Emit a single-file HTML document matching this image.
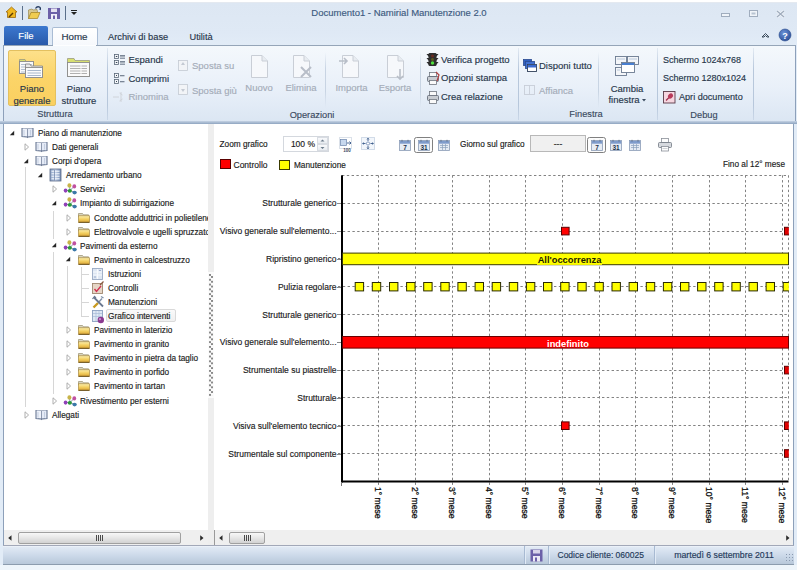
<!DOCTYPE html><html><head><meta charset="utf-8"><style>
html,body{margin:0;padding:0;}
body{width:800px;height:570px;overflow:hidden;position:relative;background:#ffffff;font-family:"Liberation Sans",sans-serif;}
.a{position:absolute;}
.t{position:absolute;white-space:nowrap;line-height:14px;-webkit-text-stroke:0.15px currentColor;}
svg{position:absolute;overflow:visible;}
</style></head><body>

<div class="a" style="left:0;top:2px;width:797px;height:564px;background:linear-gradient(#dde7f3,#dfe9f5 30px,#e2ecf7 44px);border-top:1px solid #e4e9f0;box-sizing:border-box;"></div>
<svg style="left:0;top:0" width="90" height="25">
 <path d="M6 12 L11.5 7 L17 12 L15.5 12 L15.5 17.5 L7.5 17.5 L7.5 12 Z" fill="#f0b820" stroke="#9a6a10" stroke-width="0.8"/>
 <path d="M9 17 L13 13" stroke="#5a3a00" stroke-width="1.5"/>
 <rect x="22" y="6" width="1" height="14" fill="#5a6f8a"/>
 <path d="M28.5 10 L32 9 L33 10 L37 9.5 L37.5 12 L28.5 18.5 Z" fill="#d8c890" stroke="#9a8a50" stroke-width="0.7"/>
 <path d="M28.5 18.5 L31 12.5 L40 12.5 L37.5 18.5 Z" fill="#f0cc50" stroke="#a08020" stroke-width="0.7"/>
 <path d="M35.5 8.5 Q37 6 39.5 7 Q41 8 40 10" stroke="#243a60" stroke-width="1.3" fill="none"/>
 <rect x="48" y="8" width="12" height="11" fill="#6c60a8"/>
 <rect x="51" y="8.5" width="6" height="3.5" fill="#e4e0f0"/>
 <rect x="51" y="14" width="6" height="5" fill="#f0eef8"/>
 <rect x="53" y="15.5" width="2" height="3.5" fill="#6c60a8"/>
 <rect x="65" y="6" width="1" height="14" fill="#5a6f8a"/>
 <rect x="71" y="10" width="6" height="1" fill="#222"/>
 <path d="M71 12 L77 12 L74 15 Z" fill="#222"/>
</svg>
<div class="t" style="left:249px;width:300px;text-align:center;top:5.5px;font-size:9.5px;color:#3d5a80;font-weight:normal;">Documento1 - Namirial Manutenzione 2.0</div>
<svg style="left:700px;top:0" width="100" height="45">
 <rect x="21.5" y="13.5" width="8" height="3" fill="#f0f4f9" stroke="#a0adbe" stroke-width="1"/>
 <rect x="49.5" y="10.5" width="8" height="6" fill="#f0f4f9" stroke="#a0adbe" stroke-width="1"/>
 <rect x="51.5" y="12.5" width="4" height="2" fill="#b8c4d2"/>
 <path d="M77 11 L84 17 M84 11 L77 17" stroke="#f4f7fb" stroke-width="2.6"/><path d="M77 11 L84 17 M84 11 L77 17" stroke="#a0adbe" stroke-width="1.4"/>
 <path d="M62 37 L65.5 33.5 L69 37 L67 37 L65.5 35.5 L64 37 Z" fill="none" stroke="#3a4a5a" stroke-width="1"/>
 <defs><radialGradient id="hg" cx="0.4" cy="0.35" r="0.7"><stop offset="0" stop-color="#6a92d8"/><stop offset="1" stop-color="#2d4f98"/></radialGradient></defs><circle cx="85" cy="35" r="6" fill="url(#hg)" stroke="#284a8a" stroke-width="0.6"/>
 <text x="85" y="38.5" font-size="9" font-weight="bold" fill="#fff" text-anchor="middle" font-family="Liberation Sans">?</text>
</svg>
<div class="a" style="left:4px;top:26px;width:44px;height:20px;background:linear-gradient(#3c78cf,#2858a8);border-radius:2px 2px 0 0;"></div>
<div class="t" style="left:-124px;width:300px;text-align:center;top:29.0px;font-size:9.5px;color:#ffffff;font-weight:normal;">File</div>
<div class="a" style="left:52px;top:27px;width:44px;height:19px;background:linear-gradient(#ffffff,#f5f8fc);border:1px solid #a9bcd4;border-bottom:none;border-radius:2px 2px 0 0;"></div>
<div class="t" style="left:-75.5px;width:300px;text-align:center;top:30.0px;font-size:9.8px;color:#27364a;font-weight:normal;">Home</div>
<div class="t" style="left:108px;top:30.0px;font-size:9.25px;color:#27364a;font-weight:normal;">Archivi di base</div>
<div class="t" style="left:189.5px;top:30.0px;font-size:9.25px;color:#27364a;font-weight:normal;">Utilità</div>
<div class="a" style="left:3px;top:45px;width:791px;height:76px;background:linear-gradient(#f4f8fc 0%,#e9f0f9 55%,#dbe6f3 100%);border-top:1px solid #95a5b8;border-left:1px solid #8da0ba;border-right:1px solid #8da0ba;"></div>
<div class="a" style="left:53px;top:45px;width:43px;height:1px;background:#fdfeff;"></div>
<div class="a" style="left:0px;top:121px;width:797px;height:3px;background:linear-gradient(#c5d3e4,#8ea4c0);"></div>
<div class="a" style="left:107px;top:48px;width:1px;height:72px;background:linear-gradient(rgba(160,180,205,0.2),#b7c7db 30%,#b7c7db 80%,rgba(160,180,205,0.3));"></div>
<div class="a" style="left:518px;top:48px;width:1px;height:72px;background:linear-gradient(rgba(160,180,205,0.2),#b7c7db 30%,#b7c7db 80%,rgba(160,180,205,0.3));"></div>
<div class="a" style="left:657px;top:48px;width:1px;height:72px;background:linear-gradient(rgba(160,180,205,0.2),#b7c7db 30%,#b7c7db 80%,rgba(160,180,205,0.3));"></div>
<div class="a" style="left:753px;top:48px;width:1px;height:72px;background:linear-gradient(rgba(160,180,205,0.2),#b7c7db 30%,#b7c7db 80%,rgba(160,180,205,0.3));"></div>
<div class="a" style="left:325px;top:52px;width:1px;height:56px;background:linear-gradient(rgba(180,195,215,0),#c8d4e3 30%,#c8d4e3 70%,rgba(180,195,215,0));"></div>
<div class="a" style="left:420px;top:52px;width:1px;height:56px;background:linear-gradient(rgba(180,195,215,0),#c8d4e3 30%,#c8d4e3 70%,rgba(180,195,215,0));"></div>
<div class="a" style="left:598px;top:52px;width:1px;height:56px;background:linear-gradient(rgba(180,195,215,0),#c8d4e3 30%,#c8d4e3 70%,rgba(180,195,215,0));"></div>
<div class="a" style="left:8px;top:50px;width:48px;height:56px;background:linear-gradient(#fde08a,#fbd468 50%,#fad060);border:1px solid #e3c060;border-radius:2px;box-sizing:border-box;"></div>
<svg style="left:0;top:45px" width="110" height="40">
 <g transform="translate(19,13)">
  <path d="M0.5 1.5 L6 1.5 L7 3.5 L14.5 3.5 L14.5 15.5 L0.5 15.5 Z" fill="#d8e070" stroke="#9a9a80" stroke-width="0.8"/>
  <rect x="0.5" y="3.5" width="14" height="12" fill="#fafafa" stroke="#8a8a8a" stroke-width="0.9"/>
  <path d="M2 6.5 H13 M2 9 H13 M2 11.5 H13 M2 14 H13" stroke="#a8b8cc" stroke-width="0.9"/>
  <path d="M6.5 6 L11 6 L12 8 L23.5 8 L23.5 19.5 L6.5 19.5 Z" fill="#e8e8e8" stroke="#8a8a8a" stroke-width="0.9"/>
  <rect x="6.5" y="9.5" width="17" height="10" fill="#fbfbfb" stroke="#8a8a8a" stroke-width="0.9"/>
  <path d="M8.5 12.5 H22 M8.5 15 H22 M8.5 17.5 H22" stroke="#a8b8cc" stroke-width="1"/>
 </g>
 <g transform="translate(67,13)">
  <path d="M0.5 0.5 L7 0.5 L8 2.5 L22.5 2.5 L22.5 18.5 L0.5 18.5 Z" fill="#d8e070" stroke="#9a9a80" stroke-width="0.8"/>
  <rect x="0.5" y="4.5" width="22" height="14" fill="#fafafa" stroke="#8a8a8a" stroke-width="0.9"/>
  <path d="M3 8 H20 M3 10.5 H20 M3 13 H20 M3 15.5 H20" stroke="#b0b0b0" stroke-width="1.2"/>
  <path d="M14 5 V18" stroke="#fafafa" stroke-width="1"/>
 </g>
</svg>
<div class="t" style="left:-118px;width:300px;text-align:center;top:82.0px;font-size:9.5px;color:#27364a;font-weight:normal;">Piano</div>
<div class="t" style="left:-118px;width:300px;text-align:center;top:93.5px;font-size:9.5px;color:#27364a;font-weight:normal;">generale</div>
<div class="t" style="left:-71px;width:300px;text-align:center;top:82.0px;font-size:9.5px;color:#27364a;font-weight:normal;">Piano</div>
<div class="t" style="left:-71px;width:300px;text-align:center;top:93.5px;font-size:9.5px;color:#27364a;font-weight:normal;">strutture</div>
<div class="t" style="left:-95px;width:300px;text-align:center;top:107.0px;font-size:9.25px;color:#3a4a60;font-weight:normal;">Struttura</div>
<svg style="left:110px;top:50px" width="90" height="60">
 <g stroke="#5a6878" stroke-width="0.8" fill="#f4f6f9">
  <rect x="4.5" y="4.5" width="4" height="4"/><rect x="4.5" y="10.5" width="4" height="4"/>
  <rect x="4.5" y="23.5" width="4" height="4"/><rect x="4.5" y="29.5" width="4" height="4"/>
 </g>
 <g fill="#3a4858">
  <rect x="5.8" y="6" width="1.5" height="1"/><rect x="5.8" y="12" width="1.5" height="1"/>
  <rect x="6" y="25" width="1" height="1"/><rect x="6" y="31" width="1" height="1"/>
 </g>
 <g fill="#7a8696">
  <rect x="10" y="5" width="5" height="1.6"/><rect x="10" y="7.6" width="5" height="1.2"/>
  <rect x="10" y="11" width="5" height="1.6"/><rect x="10" y="13.6" width="5" height="1.2"/>
  <rect x="10" y="25" width="4.5" height="1.3"/><rect x="10" y="31" width="4.5" height="1.3"/>
 </g>
 <g stroke="#d0d4da" stroke-width="1" fill="none"><path d="M3 47 H9 M11 42 V52 M9.5 43 L12.5 45 M9.5 51 L12.5 49"/></g>
</svg>
<div class="t" style="left:128.5px;top:52.5px;font-size:9.5px;color:#27364a;font-weight:normal;">Espandi</div>
<div class="t" style="left:128.5px;top:71.5px;font-size:9.5px;color:#27364a;font-weight:normal;">Comprimi</div>
<div class="t" style="left:128.5px;top:90.0px;font-size:9.5px;color:#a4acb8;font-weight:normal;">Rinomina</div>
<svg style="left:176px;top:55px" width="20" height="45">
 <g fill="#f2f4f7" stroke="#c4cad3" stroke-width="0.8">
  <rect x="2.5" y="5.5" width="9" height="10"/><rect x="2.5" y="29.5" width="9" height="10"/>
 </g>
 <g fill="#c4cad3"><path d="M5 10 L9 10 L7 7 Z"/><path d="M5 34 L9 34 L7 37 Z"/></g>
</svg>
<div class="t" style="left:192px;top:58.5px;font-size:9.5px;color:#a4acb8;font-weight:normal;">Sposta su</div>
<div class="t" style="left:192px;top:83.5px;font-size:9.5px;color:#a4acb8;font-weight:normal;">Sposta giù</div>
<svg style="left:250px;top:55px" width="24" height="26">
 <path d="M1.5 0.5 L12 0.5 L17.5 6 L17.5 22.5 L1.5 22.5 Z" fill="#f6f8fb" stroke="#c9ced6" stroke-width="1"/>
 <path d="M12 0.5 L12 6 L17.5 6" fill="#e8ecf1" stroke="#c9ced6" stroke-width="1"/>
</svg>
<svg style="left:292px;top:55px" width="24" height="26">
 <path d="M1.5 0.5 L12 0.5 L17.5 6 L17.5 22.5 L1.5 22.5 Z" fill="#f6f8fb" stroke="#c9ced6" stroke-width="1"/>
 <path d="M12 0.5 L12 6 L17.5 6" fill="#e8ecf1" stroke="#c9ced6" stroke-width="1"/><path d="M9 12 L19 22 M19 12 L9 22" stroke="#b8bec8" stroke-width="2"/>
</svg>
<svg style="left:341px;top:55px" width="24" height="26">
 <path d="M1.5 0.5 L12 0.5 L17.5 6 L17.5 22.5 L1.5 22.5 Z" fill="#f6f8fb" stroke="#c9ced6" stroke-width="1"/>
 <path d="M12 0.5 L12 6 L17.5 6" fill="#e8ecf1" stroke="#c9ced6" stroke-width="1"/><path d="M-2 6 L6 6 M3 3 L6 6 L3 9" stroke="#b8bec8" stroke-width="1.6" fill="none"/>
</svg>
<svg style="left:386px;top:55px" width="24" height="26">
 <path d="M1.5 0.5 L12 0.5 L17.5 6 L17.5 22.5 L1.5 22.5 Z" fill="#f6f8fb" stroke="#c9ced6" stroke-width="1"/>
 <path d="M12 0.5 L12 6 L17.5 6" fill="#e8ecf1" stroke="#c9ced6" stroke-width="1"/><path d="M14 14 L14 24 M11 21 L14 24 L17 21" stroke="#b8bec8" stroke-width="1.6" fill="none"/>
</svg>
<div class="t" style="left:109px;width:300px;text-align:center;top:81.0px;font-size:9.5px;color:#a4acb8;font-weight:normal;">Nuovo</div>
<div class="t" style="left:151px;width:300px;text-align:center;top:81.0px;font-size:9.5px;color:#a4acb8;font-weight:normal;">Elimina</div>
<div class="t" style="left:201.5px;width:300px;text-align:center;top:81.0px;font-size:9.5px;color:#a4acb8;font-weight:normal;">Importa</div>
<div class="t" style="left:245px;width:300px;text-align:center;top:81.0px;font-size:9.5px;color:#a4acb8;font-weight:normal;">Esporta</div>
<div class="t" style="left:162px;width:300px;text-align:center;top:107.5px;font-size:9.25px;color:#3a4a60;font-weight:normal;">Operazioni</div>
<svg style="left:424px;top:48px" width="20" height="60">
 <path d="M2.5 6 L5 6 L5 9 Z M2.5 10 L5 10 L5 13 Z M2.5 14 L5 14 L5 17 Z M14.5 6 L12 6 L12 9 Z M14.5 10 L12 10 L12 13 Z M14.5 14 L12 14 L12 17 Z" fill="#2a2a2a"/>
 <rect x="4.5" y="5" width="8" height="13" rx="1.2" fill="#2e2e2e"/>
 <circle cx="8.5" cy="8" r="1.5" fill="#6a2a20"/><circle cx="8.5" cy="11.5" r="1.5" fill="#5a5a20"/><circle cx="8.5" cy="15" r="1.7" fill="#50e040"/>
 <rect x="5.5" y="24.5" width="7" height="4" fill="#fafafa" stroke="#707780" stroke-width="0.8"/>
 <rect x="3.5" y="28.5" width="11" height="5" rx="1" fill="#c8ccd2" stroke="#5a6270" stroke-width="0.8"/>
 <rect x="5.5" y="32.5" width="7" height="4" fill="#fafafa" stroke="#707780" stroke-width="0.8"/>
 <path d="M12 24 L15 27 L13 33" stroke="#b04040" stroke-width="1.2" fill="none"/>
 <rect x="5.5" y="43.5" width="7" height="5" fill="#fafafa" stroke="#707780" stroke-width="0.8"/>
 <rect x="3.5" y="47.5" width="11" height="5" rx="1" fill="#c8ccd2" stroke="#5a6270" stroke-width="0.8"/>
 <rect x="5.5" y="51.5" width="7" height="4" fill="#fafafa" stroke="#707780" stroke-width="0.8"/>
</svg>
<div class="t" style="left:441px;top:52.5px;font-size:9.5px;color:#27364a;font-weight:normal;">Verifica progetto</div>
<div class="t" style="left:441px;top:71.0px;font-size:9.5px;color:#27364a;font-weight:normal;">Opzioni stampa</div>
<div class="t" style="left:441px;top:90.0px;font-size:9.5px;color:#27364a;font-weight:normal;">Crea relazione</div>
<svg style="left:520px;top:55px" width="20" height="45">
 <rect x="3.5" y="4.5" width="8" height="6" fill="#3060c0" stroke="#2a4a90" stroke-width="0.8"/>
 <rect x="5.5" y="6.5" width="9" height="7" fill="#4070d0" stroke="#2a4a90" stroke-width="0.8"/>
 <rect x="7.5" y="9.5" width="9" height="7" fill="#ffffff" stroke="#30405a" stroke-width="0.9"/>
 <rect x="7.9" y="9.9" width="8.2" height="2.6" fill="#3a6ad0"/>
 <rect x="4.5" y="30.5" width="10" height="9" fill="none" stroke="#c8ced8" stroke-width="0.9"/>
 <path d="M9.5 30.5 V39.5" stroke="#c8ced8" stroke-width="0.9"/>
</svg>
<div class="t" style="left:539px;top:58.5px;font-size:9.5px;color:#27364a;font-weight:normal;">Disponi tutto</div>
<div class="t" style="left:539px;top:83.5px;font-size:9.5px;color:#a4acb8;font-weight:normal;">Affianca</div>
<svg style="left:612px;top:55px" width="30" height="24">
 <rect x="3.5" y="1.5" width="11" height="8" fill="#f4f6f9" stroke="#6a7a90" stroke-width="0.9"/>
 <rect x="15.5" y="1.5" width="11" height="8" fill="#f4f6f9" stroke="#6a7a90" stroke-width="0.9"/>
 <rect x="3.5" y="12.5" width="11" height="8" fill="#f4f6f9" stroke="#6a7a90" stroke-width="0.9"/>
 <rect x="9.5" y="7.5" width="13" height="10" fill="#ffffff" stroke="#6a7a90" stroke-width="0.9"/>
 <rect x="10" y="8" width="12" height="2" fill="#4a80d0"/>
 <path d="M5 4 H13 M17 4 H25 M5 15 H8" stroke="#b8c8dc" stroke-width="1"/>
</svg>
<div class="t" style="left:477px;width:300px;text-align:center;top:81.5px;font-size:9.5px;color:#27364a;font-weight:normal;">Cambia</div>
<div class="t" style="left:474px;width:300px;text-align:center;top:93.0px;font-size:9.5px;color:#27364a;font-weight:normal;">finestra</div>
<svg style="left:642px;top:99px" width="6" height="4"><path d="M0 0 L4 0 L2 2.5 Z" fill="#3a4a5e"/></svg>
<div class="t" style="left:436px;width:300px;text-align:center;top:107.0px;font-size:9.25px;color:#3a4a60;font-weight:normal;">Finestra</div>
<div class="t" style="left:663px;top:52.5px;font-size:9px;color:#27364a;font-weight:normal;">Schermo 1024x768</div>
<div class="t" style="left:663px;top:71.0px;font-size:9px;color:#27364a;font-weight:normal;">Schermo 1280x1024</div>
<svg style="left:663px;top:91px" width="14" height="14">
 <rect x="0.5" y="0.5" width="11.5" height="11.5" fill="#f6d6e0" stroke="#5a3a48" stroke-width="0.9"/>
 <path d="M3 9.5 L6 6.5" stroke="#a03050" stroke-width="1.3"/>
 <ellipse cx="7.5" cy="5" rx="2.8" ry="2.3" transform="rotate(-40 7.5 5)" fill="#b83a5a"/>
</svg>
<div class="t" style="left:679px;top:89.7px;font-size:9.1px;color:#27364a;font-weight:normal;">Apri documento</div>
<div class="t" style="left:554px;width:300px;text-align:center;top:107.5px;font-size:9.25px;color:#3a4a60;font-weight:normal;">Debug</div>
<div class="a" style="left:3px;top:124px;width:205px;height:421px;background:#ffffff;border-left:1px solid #8da0ba;box-sizing:border-box;"></div>
<div class="a" style="left:208px;top:124px;width:6px;height:421px;background:#eeeeee;"></div>
<div class="a" style="left:208px;top:272px;width:6px;height:126px;background:#fbfbfb;"></div>
<div class="a" style="left:208.5px;top:274px;width:2px;height:122px;background:radial-gradient(circle at 1px 1px,#8a8a8a 0.9px,transparent 1.1px) 0 0/2px 4.8px;"></div>
<div class="a" style="left:210.8px;top:276.4px;width:2px;height:120px;background:radial-gradient(circle at 1px 1px,#8a8a8a 0.9px,transparent 1.1px) 0 0/2px 4.8px;"></div>
<div class="a" style="left:4px;top:124px;width:204px;height:407px;overflow:hidden;">
<div class="a" style="left:21.0px;top:43px;width:1px;height:240px;background:#d6d6d6;"></div>
<div class="a" style="left:48.9px;top:87px;width:1px;height:28px;background:#d6d6d6;"></div>
<div class="a" style="left:48.9px;top:128px;width:1px;height:142px;background:#d6d6d6;"></div>
<div class="a" style="left:63.0px;top:142px;width:1px;height:56px;background:#d6d6d6;"></div>
<div class="a" style="left:77.0px;top:143px;width:1px;height:50px;background:#d6d6d6;"></div>
<div class="a" style="left:77.5px;top:150.0px;width:7.5px;height:1px;background:#d6d6d6;"></div>
<div class="a" style="left:77.5px;top:164.0px;width:7.5px;height:1px;background:#d6d6d6;"></div>
<div class="a" style="left:77.5px;top:178.0px;width:7.5px;height:1px;background:#d6d6d6;"></div>
<div class="a" style="left:77.5px;top:192.0px;width:7.5px;height:1px;background:#d6d6d6;"></div>
<div class="a" style="left:102px;top:185px;width:70px;height:13px;border:1px solid #d9d9d9;border-radius:2px;box-sizing:border-box;background:linear-gradient(#fafafa,#f0f0f0);"></div>
<svg style="left:4.5px;top:5.5px" width="7" height="7"><path d="M5.2 0.8 L5.2 5.2 L0.8 5.2 Z" fill="#262626"/></svg>
<svg style="left:17px;top:3.0px" width="14" height="12">
 <path d="M0.5 1 L6.2 1.5 L6.8 1.5 L12.5 1 L12.5 10 L7 10.5 L6.5 11.3 L6 10.5 L0.5 10 Z" fill="#5a6a88"/>
 <path d="M1.5 1.6 Q4 1.2 6.2 2 L6.2 9.6 Q4 9 1.5 9.4 Z" fill="#eef2fa"/>
 <path d="M6.8 2 Q9 1.2 11.5 1.6 L11.5 9.4 Q9 9 6.8 9.6 Z" fill="#e4eaf6"/>
 <path d="M3 3 V8.5 M9.5 3 V8.5" stroke="#c4cee0" stroke-width="1"/>
</svg>
<div class="t" style="left:34px;top:3.0px;font-size:8.25px;color:#1b1b1b;">Piano di manutenzione</div>
<svg style="left:19.5px;top:19.1px" width="6" height="8"><path d="M1 0.8 L4.6 4 L1 7.2 Z" fill="#fff" stroke="#a6a6a6" stroke-width="0.9"/></svg>
<svg style="left:31px;top:17.1px" width="14" height="12">
 <path d="M0.5 1 L6.2 1.5 L6.8 1.5 L12.5 1 L12.5 10 L7 10.5 L6.5 11.3 L6 10.5 L0.5 10 Z" fill="#5a6a88"/>
 <path d="M1.5 1.6 Q4 1.2 6.2 2 L6.2 9.6 Q4 9 1.5 9.4 Z" fill="#eef2fa"/>
 <path d="M6.8 2 Q9 1.2 11.5 1.6 L11.5 9.4 Q9 9 6.8 9.6 Z" fill="#e4eaf6"/>
 <path d="M3 3 V8.5 M9.5 3 V8.5" stroke="#c4cee0" stroke-width="1"/>
</svg>
<div class="t" style="left:48px;top:17.1px;font-size:8.25px;color:#1b1b1b;">Dati generali</div>
<svg style="left:18.5px;top:33.7px" width="7" height="7"><path d="M5.2 0.8 L5.2 5.2 L0.8 5.2 Z" fill="#262626"/></svg>
<svg style="left:31px;top:31.200000000000003px" width="14" height="12">
 <path d="M0.5 1 L6.2 1.5 L6.8 1.5 L12.5 1 L12.5 10 L7 10.5 L6.5 11.3 L6 10.5 L0.5 10 Z" fill="#5a6a88"/>
 <path d="M1.5 1.6 Q4 1.2 6.2 2 L6.2 9.6 Q4 9 1.5 9.4 Z" fill="#eef2fa"/>
 <path d="M6.8 2 Q9 1.2 11.5 1.6 L11.5 9.4 Q9 9 6.8 9.6 Z" fill="#e4eaf6"/>
 <path d="M3 3 V8.5 M9.5 3 V8.5" stroke="#c4cee0" stroke-width="1"/>
</svg>
<div class="t" style="left:48px;top:31.200000000000003px;font-size:8.25px;color:#1b1b1b;">Corpi d'opera</div>
<svg style="left:32.5px;top:47.7px" width="7" height="7"><path d="M5.2 0.8 L5.2 5.2 L0.8 5.2 Z" fill="#262626"/></svg>
<svg style="left:45px;top:44.2px" width="14" height="14">
 <defs><linearGradient id="bg1" x1="0" y1="0" x2="1" y2="0"><stop offset="0" stop-color="#8aa0c4"/><stop offset="0.5" stop-color="#c8d6ec"/><stop offset="1" stop-color="#7088b0"/></linearGradient></defs>
 <rect x="1" y="1" width="11" height="12" fill="url(#bg1)" stroke="#5a6a88" stroke-width="0.8"/>
 <path d="M2.5 3.2 H10.5 M2.5 5.7 H10.5 M2.5 8.2 H10.5 M2.5 10.7 H10.5" stroke="#f4f7fc" stroke-width="1.1"/>
 <path d="M5.5 2 V12.5" stroke="#6a7ea4" stroke-width="0.7"/>
</svg>
<div class="t" style="left:62px;top:45.2px;font-size:8.25px;color:#1b1b1b;">Arredamento urbano</div>
<svg style="left:47.5px;top:61.3px" width="6" height="8"><path d="M1 0.8 L4.6 4 L1 7.2 Z" fill="#fff" stroke="#a6a6a6" stroke-width="0.9"/></svg>
<svg style="left:58px;top:58.3px" width="16" height="14">
 <path d="M4 8.5 L8 8.5 L12.5 10.5 M8 8.5 L7.5 3.5 M8 8.5 L12 4.5" stroke="#8a9aaa" stroke-width="1" fill="none"/>
 <ellipse cx="7.4" cy="3.4" rx="2" ry="2.2" fill="#c8b448"/>
 <ellipse cx="12.3" cy="4.4" rx="1.9" ry="2.1" fill="#c050a0"/>
 <ellipse cx="3.6" cy="8.6" rx="1.9" ry="2.1" fill="#9040b8"/>
 <ellipse cx="7.8" cy="8.8" rx="2.1" ry="1.9" fill="#2a9a38"/>
 <ellipse cx="12.6" cy="10.6" rx="2.2" ry="1.8" fill="#3a78a8"/>
</svg>
<div class="t" style="left:76px;top:59.3px;font-size:8.25px;color:#1b1b1b;">Servizi</div>
<svg style="left:46.5px;top:75.9px" width="7" height="7"><path d="M5.2 0.8 L5.2 5.2 L0.8 5.2 Z" fill="#262626"/></svg>
<svg style="left:58px;top:72.4px" width="16" height="14">
 <path d="M4 8.5 L8 8.5 L12.5 10.5 M8 8.5 L7.5 3.5 M8 8.5 L12 4.5" stroke="#8a9aaa" stroke-width="1" fill="none"/>
 <ellipse cx="7.4" cy="3.4" rx="2" ry="2.2" fill="#c8b448"/>
 <ellipse cx="12.3" cy="4.4" rx="1.9" ry="2.1" fill="#c050a0"/>
 <ellipse cx="3.6" cy="8.6" rx="1.9" ry="2.1" fill="#9040b8"/>
 <ellipse cx="7.8" cy="8.8" rx="2.1" ry="1.9" fill="#2a9a38"/>
 <ellipse cx="12.6" cy="10.6" rx="2.2" ry="1.8" fill="#3a78a8"/>
</svg>
<div class="t" style="left:76px;top:73.4px;font-size:8.25px;color:#1b1b1b;">Impianto di subirrigazione</div>
<svg style="left:61.5px;top:89.5px" width="6" height="8"><path d="M1 0.8 L4.6 4 L1 7.2 Z" fill="#fff" stroke="#a6a6a6" stroke-width="0.9"/></svg>
<svg style="left:74px;top:87.5px" width="14" height="12">
 <defs><linearGradient id="fg" x1="0" y1="0" x2="0" y2="1"><stop offset="0" stop-color="#fdf0b0"/><stop offset="0.5" stop-color="#f3cf60"/><stop offset="1" stop-color="#d9a232"/></linearGradient></defs>
 <path d="M0.5 1.5 L4.5 1.5 L5.5 2.8 L10.5 2.8 L10.5 5 L0.5 5 Z" fill="#d8d4c0" stroke="#9a9070" stroke-width="0.7"/>
 <rect x="0.5" y="3.8" width="11" height="6.7" fill="url(#fg)" stroke="#a88a40" stroke-width="0.7"/>
 <path d="M0.8 10.3 H11.3" stroke="#6a5222" stroke-width="1"/>
</svg>
<div class="t" style="left:90px;top:87.5px;font-size:8.25px;color:#1b1b1b;">Condotte adduttrici in polietilene</div>
<svg style="left:61.5px;top:103.6px" width="6" height="8"><path d="M1 0.8 L4.6 4 L1 7.2 Z" fill="#fff" stroke="#a6a6a6" stroke-width="0.9"/></svg>
<svg style="left:74px;top:101.6px" width="14" height="12">
 <defs><linearGradient id="fg" x1="0" y1="0" x2="0" y2="1"><stop offset="0" stop-color="#fdf0b0"/><stop offset="0.5" stop-color="#f3cf60"/><stop offset="1" stop-color="#d9a232"/></linearGradient></defs>
 <path d="M0.5 1.5 L4.5 1.5 L5.5 2.8 L10.5 2.8 L10.5 5 L0.5 5 Z" fill="#d8d4c0" stroke="#9a9070" stroke-width="0.7"/>
 <rect x="0.5" y="3.8" width="11" height="6.7" fill="url(#fg)" stroke="#a88a40" stroke-width="0.7"/>
 <path d="M0.8 10.3 H11.3" stroke="#6a5222" stroke-width="1"/>
</svg>
<div class="t" style="left:90px;top:101.6px;font-size:8.25px;color:#1b1b1b;">Elettrovalvole e ugelli spruzzatori</div>
<svg style="left:46.5px;top:118.1px" width="7" height="7"><path d="M5.2 0.8 L5.2 5.2 L0.8 5.2 Z" fill="#262626"/></svg>
<svg style="left:58px;top:114.6px" width="16" height="14">
 <path d="M4 8.5 L8 8.5 L12.5 10.5 M8 8.5 L7.5 3.5 M8 8.5 L12 4.5" stroke="#8a9aaa" stroke-width="1" fill="none"/>
 <ellipse cx="7.4" cy="3.4" rx="2" ry="2.2" fill="#c8b448"/>
 <ellipse cx="12.3" cy="4.4" rx="1.9" ry="2.1" fill="#c050a0"/>
 <ellipse cx="3.6" cy="8.6" rx="1.9" ry="2.1" fill="#9040b8"/>
 <ellipse cx="7.8" cy="8.8" rx="2.1" ry="1.9" fill="#2a9a38"/>
 <ellipse cx="12.6" cy="10.6" rx="2.2" ry="1.8" fill="#3a78a8"/>
</svg>
<div class="t" style="left:76px;top:115.6px;font-size:8.25px;color:#1b1b1b;">Pavimenti da esterno</div>
<svg style="left:60.5px;top:132.2px" width="7" height="7"><path d="M5.2 0.8 L5.2 5.2 L0.8 5.2 Z" fill="#262626"/></svg>
<svg style="left:74px;top:129.7px" width="14" height="12">
 <defs><linearGradient id="fg" x1="0" y1="0" x2="0" y2="1"><stop offset="0" stop-color="#fdf0b0"/><stop offset="0.5" stop-color="#f3cf60"/><stop offset="1" stop-color="#d9a232"/></linearGradient></defs>
 <path d="M0.5 1.5 L4.5 1.5 L5.5 2.8 L10.5 2.8 L10.5 5 L0.5 5 Z" fill="#d8d4c0" stroke="#9a9070" stroke-width="0.7"/>
 <rect x="0.5" y="3.8" width="11" height="6.7" fill="url(#fg)" stroke="#a88a40" stroke-width="0.7"/>
 <path d="M0.8 10.3 H11.3" stroke="#6a5222" stroke-width="1"/>
</svg>
<div class="t" style="left:90px;top:129.7px;font-size:8.25px;color:#1b1b1b;">Pavimento in calcestruzzo</div>
<svg style="left:87px;top:142.8px" width="14" height="14"><rect x="1.5" y="1.5" width="10" height="11" fill="#dde6f2" stroke="#9aaac4" stroke-width="0.9"/><path d="M6.5 2 V12 M2 5 H11 M2 8 H11" stroke="#f8fafd" stroke-width="1.2"/><path d="M3 10 H5 M8 3.5 H10" stroke="#8a9cc0" stroke-width="0.8"/></svg>
<div class="t" style="left:104px;top:143.8px;font-size:8.25px;color:#1b1b1b;">Istruzioni</div>
<svg style="left:87px;top:156.9px" width="14" height="14"><rect x="1.5" y="2.5" width="10" height="10" fill="#e6d6c6" stroke="#a08870" stroke-width="0.9"/><path d="M3.5 8 L5.5 10.5 L10 5" stroke="#d03050" stroke-width="1.4" fill="none"/><path d="M9 4 L12.5 0.5" stroke="#8a5a40" stroke-width="1.3"/></svg>
<div class="t" style="left:104px;top:157.9px;font-size:8.25px;color:#1b1b1b;">Controlli</div>
<svg style="left:87px;top:171.0px" width="14" height="14"><path d="M2.5 12.5 L7 8" stroke="#c89a20" stroke-width="2.4"/><path d="M7 8 L11 3.5" stroke="#8090a8" stroke-width="1.4"/><path d="M3 2.5 L12 11.5" stroke="#6a7890" stroke-width="1.8"/><path d="M1.5 4 L3.5 1.5 L5 3" stroke="#6a7890" stroke-width="1.2" fill="none"/><path d="M10 1.5 L12.5 3" stroke="#8090a8" stroke-width="1.4"/></svg>
<div class="t" style="left:104px;top:172.0px;font-size:8.25px;color:#1b1b1b;">Manutenzioni</div>
<svg style="left:87px;top:185.0px" width="14" height="14"><rect x="1.5" y="1.5" width="10" height="11" fill="#dfe8f4" stroke="#8aa0c0" stroke-width="0.9"/><path d="M2 4.5 H11 M2 7.5 H11 M5 2 V12 M8 2 V12" stroke="#a8bcd8" stroke-width="0.7"/><circle cx="9.8" cy="11" r="3.2" fill="#8a3a90"/><circle cx="9" cy="10.2" r="1.1" fill="#c890d0"/></svg>
<div class="t" style="left:104px;top:186.0px;font-size:8.25px;color:#1b1b1b;">Grafico interventi</div>
<svg style="left:61.5px;top:202.1px" width="6" height="8"><path d="M1 0.8 L4.6 4 L1 7.2 Z" fill="#fff" stroke="#a6a6a6" stroke-width="0.9"/></svg>
<svg style="left:74px;top:200.1px" width="14" height="12">
 <defs><linearGradient id="fg" x1="0" y1="0" x2="0" y2="1"><stop offset="0" stop-color="#fdf0b0"/><stop offset="0.5" stop-color="#f3cf60"/><stop offset="1" stop-color="#d9a232"/></linearGradient></defs>
 <path d="M0.5 1.5 L4.5 1.5 L5.5 2.8 L10.5 2.8 L10.5 5 L0.5 5 Z" fill="#d8d4c0" stroke="#9a9070" stroke-width="0.7"/>
 <rect x="0.5" y="3.8" width="11" height="6.7" fill="url(#fg)" stroke="#a88a40" stroke-width="0.7"/>
 <path d="M0.8 10.3 H11.3" stroke="#6a5222" stroke-width="1"/>
</svg>
<div class="t" style="left:90px;top:200.1px;font-size:8.25px;color:#1b1b1b;">Pavimento in laterizio</div>
<svg style="left:61.5px;top:216.2px" width="6" height="8"><path d="M1 0.8 L4.6 4 L1 7.2 Z" fill="#fff" stroke="#a6a6a6" stroke-width="0.9"/></svg>
<svg style="left:74px;top:214.2px" width="14" height="12">
 <defs><linearGradient id="fg" x1="0" y1="0" x2="0" y2="1"><stop offset="0" stop-color="#fdf0b0"/><stop offset="0.5" stop-color="#f3cf60"/><stop offset="1" stop-color="#d9a232"/></linearGradient></defs>
 <path d="M0.5 1.5 L4.5 1.5 L5.5 2.8 L10.5 2.8 L10.5 5 L0.5 5 Z" fill="#d8d4c0" stroke="#9a9070" stroke-width="0.7"/>
 <rect x="0.5" y="3.8" width="11" height="6.7" fill="url(#fg)" stroke="#a88a40" stroke-width="0.7"/>
 <path d="M0.8 10.3 H11.3" stroke="#6a5222" stroke-width="1"/>
</svg>
<div class="t" style="left:90px;top:214.2px;font-size:8.25px;color:#1b1b1b;">Pavimento in granito</div>
<svg style="left:61.5px;top:230.3px" width="6" height="8"><path d="M1 0.8 L4.6 4 L1 7.2 Z" fill="#fff" stroke="#a6a6a6" stroke-width="0.9"/></svg>
<svg style="left:74px;top:228.3px" width="14" height="12">
 <defs><linearGradient id="fg" x1="0" y1="0" x2="0" y2="1"><stop offset="0" stop-color="#fdf0b0"/><stop offset="0.5" stop-color="#f3cf60"/><stop offset="1" stop-color="#d9a232"/></linearGradient></defs>
 <path d="M0.5 1.5 L4.5 1.5 L5.5 2.8 L10.5 2.8 L10.5 5 L0.5 5 Z" fill="#d8d4c0" stroke="#9a9070" stroke-width="0.7"/>
 <rect x="0.5" y="3.8" width="11" height="6.7" fill="url(#fg)" stroke="#a88a40" stroke-width="0.7"/>
 <path d="M0.8 10.3 H11.3" stroke="#6a5222" stroke-width="1"/>
</svg>
<div class="t" style="left:90px;top:228.3px;font-size:8.25px;color:#1b1b1b;">Pavimento in pietra da taglio</div>
<svg style="left:61.5px;top:244.4px" width="6" height="8"><path d="M1 0.8 L4.6 4 L1 7.2 Z" fill="#fff" stroke="#a6a6a6" stroke-width="0.9"/></svg>
<svg style="left:74px;top:242.4px" width="14" height="12">
 <defs><linearGradient id="fg" x1="0" y1="0" x2="0" y2="1"><stop offset="0" stop-color="#fdf0b0"/><stop offset="0.5" stop-color="#f3cf60"/><stop offset="1" stop-color="#d9a232"/></linearGradient></defs>
 <path d="M0.5 1.5 L4.5 1.5 L5.5 2.8 L10.5 2.8 L10.5 5 L0.5 5 Z" fill="#d8d4c0" stroke="#9a9070" stroke-width="0.7"/>
 <rect x="0.5" y="3.8" width="11" height="6.7" fill="url(#fg)" stroke="#a88a40" stroke-width="0.7"/>
 <path d="M0.8 10.3 H11.3" stroke="#6a5222" stroke-width="1"/>
</svg>
<div class="t" style="left:90px;top:242.4px;font-size:8.25px;color:#1b1b1b;">Pavimento in porfido</div>
<svg style="left:61.5px;top:258.4px" width="6" height="8"><path d="M1 0.8 L4.6 4 L1 7.2 Z" fill="#fff" stroke="#a6a6a6" stroke-width="0.9"/></svg>
<svg style="left:74px;top:256.4px" width="14" height="12">
 <defs><linearGradient id="fg" x1="0" y1="0" x2="0" y2="1"><stop offset="0" stop-color="#fdf0b0"/><stop offset="0.5" stop-color="#f3cf60"/><stop offset="1" stop-color="#d9a232"/></linearGradient></defs>
 <path d="M0.5 1.5 L4.5 1.5 L5.5 2.8 L10.5 2.8 L10.5 5 L0.5 5 Z" fill="#d8d4c0" stroke="#9a9070" stroke-width="0.7"/>
 <rect x="0.5" y="3.8" width="11" height="6.7" fill="url(#fg)" stroke="#a88a40" stroke-width="0.7"/>
 <path d="M0.8 10.3 H11.3" stroke="#6a5222" stroke-width="1"/>
</svg>
<div class="t" style="left:90px;top:256.4px;font-size:8.25px;color:#1b1b1b;">Pavimento in tartan</div>
<svg style="left:47.5px;top:272.5px" width="6" height="8"><path d="M1 0.8 L4.6 4 L1 7.2 Z" fill="#fff" stroke="#a6a6a6" stroke-width="0.9"/></svg>
<svg style="left:58px;top:269.5px" width="16" height="14">
 <path d="M4 8.5 L8 8.5 L12.5 10.5 M8 8.5 L7.5 3.5 M8 8.5 L12 4.5" stroke="#8a9aaa" stroke-width="1" fill="none"/>
 <ellipse cx="7.4" cy="3.4" rx="2" ry="2.2" fill="#c8b448"/>
 <ellipse cx="12.3" cy="4.4" rx="1.9" ry="2.1" fill="#c050a0"/>
 <ellipse cx="3.6" cy="8.6" rx="1.9" ry="2.1" fill="#9040b8"/>
 <ellipse cx="7.8" cy="8.8" rx="2.1" ry="1.9" fill="#2a9a38"/>
 <ellipse cx="12.6" cy="10.6" rx="2.2" ry="1.8" fill="#3a78a8"/>
</svg>
<div class="t" style="left:76px;top:270.5px;font-size:8.25px;color:#1b1b1b;">Rivestimento per esterni</div>
<svg style="left:19.5px;top:286.6px" width="6" height="8"><path d="M1 0.8 L4.6 4 L1 7.2 Z" fill="#fff" stroke="#a6a6a6" stroke-width="0.9"/></svg>
<svg style="left:31px;top:284.6px" width="14" height="12">
 <path d="M0.5 1 L6.2 1.5 L6.8 1.5 L12.5 1 L12.5 10 L7 10.5 L6.5 11.3 L6 10.5 L0.5 10 Z" fill="#5a6a88"/>
 <path d="M1.5 1.6 Q4 1.2 6.2 2 L6.2 9.6 Q4 9 1.5 9.4 Z" fill="#eef2fa"/>
 <path d="M6.8 2 Q9 1.2 11.5 1.6 L11.5 9.4 Q9 9 6.8 9.6 Z" fill="#e4eaf6"/>
 <path d="M3 3 V8.5 M9.5 3 V8.5" stroke="#c4cee0" stroke-width="1"/>
</svg>
<div class="t" style="left:48px;top:284.6px;font-size:8.25px;color:#1b1b1b;">Allegati</div>
</div>
<div class="a" style="left:4px;top:530px;width:204px;height:15px;background:#efefef;"></div>
<svg style="left:6px;top:534px" width="8" height="8"><path d="M5.5 1.2 L2.2 4 L5.5 6.8 Z" fill="#2a2a2a"/></svg>
<svg style="left:198px;top:534px" width="8" height="8"><path d="M2.2 1.2 L5.5 4 L2.2 6.8 Z" fill="#2a2a2a"/></svg>
<div class="a" style="left:18px;top:532px;width:163px;height:12px;background:linear-gradient(#f8f8f8,#e6e6e6 50%,#d2d2d2);border:1px solid #a0a0a0;border-radius:2px;box-sizing:border-box;"></div>
<div class="a" style="left:96px;top:535px;width:7px;height:6px;background:repeating-linear-gradient(90deg,#4a4a4a 0 1px,transparent 1px 2px);"></div>
<div class="a" style="left:214px;top:124px;width:580px;height:421px;background:#ffffff;border-right:1px solid #8da0ba;box-sizing:border-box;"></div>
<div class="t" style="left:219.5px;top:137.5px;font-size:8.25px;color:#1b1b1b;font-weight:normal;">Zoom grafico</div>
<div class="a" style="left:283px;top:135.5px;width:46px;height:16px;background:#fff;border:1px solid #d4d8de;box-sizing:border-box;"></div>
<div class="t" style="right:485px;top:137.0px;font-size:8.5px;color:#1b1b1b;font-weight:normal;">100 %</div>
<div class="a" style="left:317px;top:137px;width:11px;height:7px;background:linear-gradient(#f8f9fb,#e8ecf1);border:1px solid #d8dce2;box-sizing:border-box;"></div>
<div class="a" style="left:317px;top:144px;width:11px;height:7px;background:linear-gradient(#f8f9fb,#e8ecf1);border:1px solid #d8dce2;box-sizing:border-box;"></div>
<svg style="left:320px;top:139px" width="6" height="11"><path d="M0.5 2.5 L2.5 0.5 L4.5 2.5 Z M0.5 8 L4.5 8 L2.5 10 Z" fill="#6a7a8a"/></svg>
<svg style="left:339px;top:137px" width="40" height="16">
 <rect x="0.5" y="0.5" width="12" height="11" fill="none" stroke="#9aaac0" stroke-width="0.7" stroke-dasharray="1 1"/>
 <rect x="1.5" y="2.5" width="6" height="6" fill="#c8d8ee" stroke="#6a84ac" stroke-width="0.7"/>
 <path d="M8 6 L12 6 M10.5 4.5 L12 6 L10.5 7.5" stroke="#3a5a8a" stroke-width="0.9" fill="none"/>
 <text x="8" y="14.6" font-size="4.5" fill="#3a4a60" text-anchor="middle" font-family="Liberation Sans" font-weight="bold">100</text>
 <rect x="22.5" y="0.5" width="13" height="12" fill="#f2f6fb" stroke="#8aa0c0" stroke-width="0.7" stroke-dasharray="1 1"/>
 <circle cx="29" cy="6.5" r="1.6" fill="#ffffff" stroke="#5a78a8" stroke-width="0.7"/>
 <path d="M29 1 V4 M29 9 V12 M23.5 6.5 H26.5 M31.5 6.5 H34.5" stroke="#3a5a8a" stroke-width="0.9"/>
 <path d="M28 2.5 L29 1.2 L30 2.5 M28 10.5 L29 11.8 L30 10.5 M25 5.5 L23.7 6.5 L25 7.5 M33 5.5 L34.3 6.5 L33 7.5" stroke="#3a5a8a" stroke-width="0.7" fill="none"/>
</svg>
<svg style="left:398.5px;top:138.5px" width="13" height="13">
 <rect x="0.5" y="1.5" width="11" height="10" fill="#e6ecf4" stroke="#8a9cb6" stroke-width="0.8"/>
 <rect x="0.9" y="1.9" width="10.2" height="2.8" fill="#7f9ccb"/>
 <path d="M3 0.8 V2.6 M9 0.8 V2.6" stroke="#55657a" stroke-width="0.8"/>
 <text x="6" y="10.6" font-size="6.5" fill="#22324a" text-anchor="middle" font-family="Liberation Sans" font-weight="bold">7</text>
</svg>
<div class="a" style="left:414px;top:136.5px;width:19px;height:16px;border:1px solid #808080;border-radius:2.5px;background:#fcfcfc;box-sizing:border-box;"></div>
<svg style="left:417.5px;top:138.5px" width="13" height="13">
 <rect x="0.5" y="1.5" width="11" height="10" fill="#e6ecf4" stroke="#8a9cb6" stroke-width="0.8"/>
 <rect x="0.9" y="1.9" width="10.2" height="2.8" fill="#7f9ccb"/>
 <path d="M3 0.8 V2.6 M9 0.8 V2.6" stroke="#55657a" stroke-width="0.8"/>
 <text x="6" y="10.6" font-size="6.5" fill="#22324a" text-anchor="middle" font-family="Liberation Sans" font-weight="bold">31</text>
</svg>
<svg style="left:437.5px;top:138.5px" width="13" height="13">
 <rect x="0.5" y="1.5" width="11" height="10" fill="#e6ecf4" stroke="#8a9cb6" stroke-width="0.8"/>
 <rect x="0.9" y="1.9" width="10.2" height="2.8" fill="#7f9ccb"/>
 <path d="M3 0.8 V2.6 M9 0.8 V2.6" stroke="#55657a" stroke-width="0.8"/>
 <path d="M2 6.5 H10 M2 8.5 H10 M4.5 5 V11 M7.5 5 V11" stroke="#8aa0bc" stroke-width="0.7"/>
</svg>
<div class="t" style="left:460px;top:137.6px;font-size:8.25px;color:#1b1b1b;font-weight:normal;">Giorno sul grafico</div>
<div class="a" style="left:530px;top:135px;width:56px;height:17px;background:#f0f0f0;border:1px solid #b8b8b8;box-sizing:border-box;"></div>
<div class="t" style="left:408px;width:300px;text-align:center;top:136.5px;font-size:8.5px;color:#333;font-weight:normal;">---</div>
<div class="a" style="left:587px;top:136.5px;width:19px;height:16px;border:1px solid #808080;border-radius:2.5px;background:#fcfcfc;box-sizing:border-box;"></div>
<svg style="left:590.5px;top:138.5px" width="13" height="13">
 <rect x="0.5" y="1.5" width="11" height="10" fill="#e6ecf4" stroke="#8a9cb6" stroke-width="0.8"/>
 <rect x="0.9" y="1.9" width="10.2" height="2.8" fill="#7f9ccb"/>
 <path d="M3 0.8 V2.6 M9 0.8 V2.6" stroke="#55657a" stroke-width="0.8"/>
 <text x="6" y="10.6" font-size="6.5" fill="#22324a" text-anchor="middle" font-family="Liberation Sans" font-weight="bold">7</text>
</svg>
<svg style="left:610px;top:138.5px" width="13" height="13">
 <rect x="0.5" y="1.5" width="11" height="10" fill="#e6ecf4" stroke="#8a9cb6" stroke-width="0.8"/>
 <rect x="0.9" y="1.9" width="10.2" height="2.8" fill="#7f9ccb"/>
 <path d="M3 0.8 V2.6 M9 0.8 V2.6" stroke="#55657a" stroke-width="0.8"/>
 <text x="6" y="10.6" font-size="6.5" fill="#22324a" text-anchor="middle" font-family="Liberation Sans" font-weight="bold">31</text>
</svg>
<svg style="left:628.5px;top:138.5px" width="13" height="13">
 <rect x="0.5" y="1.5" width="11" height="10" fill="#e6ecf4" stroke="#8a9cb6" stroke-width="0.8"/>
 <rect x="0.9" y="1.9" width="10.2" height="2.8" fill="#7f9ccb"/>
 <path d="M3 0.8 V2.6 M9 0.8 V2.6" stroke="#55657a" stroke-width="0.8"/>
 <path d="M2 6.5 H10 M2 8.5 H10 M4.5 5 V11 M7.5 5 V11" stroke="#8aa0bc" stroke-width="0.7"/>
</svg>
<svg style="left:658px;top:138px" width="15" height="14">
 <rect x="3.5" y="0.5" width="7" height="4" fill="#fdfdfd" stroke="#8a9098" stroke-width="0.8"/>
 <rect x="0.5" y="4.5" width="13" height="5" rx="1" fill="#d6d9de" stroke="#6f7680" stroke-width="0.8"/>
 <rect x="3.5" y="8.5" width="7" height="4.5" fill="#fdfdfd" stroke="#8a9098" stroke-width="0.8"/>
 <path d="M4.5 10.5 H9.5" stroke="#b0b4ba" stroke-width="0.6"/>
</svg>
<div class="a" style="left:219.5px;top:159.3px;width:11px;height:10.2px;background:#ff0000;border:1px solid #5a0000;box-sizing:border-box;"></div>
<div class="t" style="left:233.5px;top:157.5px;font-size:8.5px;color:#1b1b1b;font-weight:normal;">Controllo</div>
<div class="a" style="left:279px;top:159.5px;width:11px;height:10px;background:#ffff00;border:1px solid #3a3a00;box-sizing:border-box;"></div>
<div class="t" style="left:294px;top:158.5px;font-size:8.25px;color:#1b1b1b;font-weight:normal;">Manutenzione</div>
<div class="t" style="right:15px;top:158.0px;font-size:8.25px;color:#1b1b1b;font-weight:normal;">Fino al 12° mese</div>
<svg style="left:0;top:0" width="800" height="570"><defs><clipPath id="cp"><rect x="341" y="170" width="447.8" height="320"/></clipPath></defs>
<line x1="338" y1="203.5" x2="788.5" y2="203.5" stroke="#828282" stroke-width="1" stroke-dasharray="2.4 2.4"/>
<line x1="338" y1="231.5" x2="788.5" y2="231.5" stroke="#828282" stroke-width="1" stroke-dasharray="2.4 2.4"/>
<line x1="338" y1="258.5" x2="788.5" y2="258.5" stroke="#828282" stroke-width="1" stroke-dasharray="2.4 2.4"/>
<line x1="338" y1="286.5" x2="788.5" y2="286.5" stroke="#828282" stroke-width="1" stroke-dasharray="2.4 2.4"/>
<line x1="338" y1="314.5" x2="788.5" y2="314.5" stroke="#828282" stroke-width="1" stroke-dasharray="2.4 2.4"/>
<line x1="338" y1="342.5" x2="788.5" y2="342.5" stroke="#828282" stroke-width="1" stroke-dasharray="2.4 2.4"/>
<line x1="338" y1="370.5" x2="788.5" y2="370.5" stroke="#828282" stroke-width="1" stroke-dasharray="2.4 2.4"/>
<line x1="338" y1="397.5" x2="788.5" y2="397.5" stroke="#828282" stroke-width="1" stroke-dasharray="2.4 2.4"/>
<line x1="338" y1="425.5" x2="788.5" y2="425.5" stroke="#828282" stroke-width="1" stroke-dasharray="2.4 2.4"/>
<line x1="338" y1="453.5" x2="788.5" y2="453.5" stroke="#828282" stroke-width="1" stroke-dasharray="2.4 2.4"/>
<line x1="342" y1="175.5" x2="788.5" y2="175.5" stroke="#828282" stroke-width="1" stroke-dasharray="2.4 2.4"/>
<line x1="788.5" y1="175.3" x2="788.5" y2="481.5" stroke="#828282" stroke-width="1" stroke-dasharray="2.4 2.4"/>
<line x1="378.5" y1="175.3" x2="378.5" y2="485.5" stroke="#828282" stroke-width="1" stroke-dasharray="2.4 2.4"/>
<line x1="415.5" y1="175.3" x2="415.5" y2="485.5" stroke="#828282" stroke-width="1" stroke-dasharray="2.4 2.4"/>
<line x1="452.5" y1="175.3" x2="452.5" y2="485.5" stroke="#828282" stroke-width="1" stroke-dasharray="2.4 2.4"/>
<line x1="489.5" y1="175.3" x2="489.5" y2="485.5" stroke="#828282" stroke-width="1" stroke-dasharray="2.4 2.4"/>
<line x1="525.5" y1="175.3" x2="525.5" y2="485.5" stroke="#828282" stroke-width="1" stroke-dasharray="2.4 2.4"/>
<line x1="562.5" y1="175.3" x2="562.5" y2="485.5" stroke="#828282" stroke-width="1" stroke-dasharray="2.4 2.4"/>
<line x1="599.5" y1="175.3" x2="599.5" y2="485.5" stroke="#828282" stroke-width="1" stroke-dasharray="2.4 2.4"/>
<line x1="635.5" y1="175.3" x2="635.5" y2="485.5" stroke="#828282" stroke-width="1" stroke-dasharray="2.4 2.4"/>
<line x1="672.5" y1="175.3" x2="672.5" y2="485.5" stroke="#828282" stroke-width="1" stroke-dasharray="2.4 2.4"/>
<line x1="709.5" y1="175.3" x2="709.5" y2="485.5" stroke="#828282" stroke-width="1" stroke-dasharray="2.4 2.4"/>
<line x1="745.5" y1="175.3" x2="745.5" y2="485.5" stroke="#828282" stroke-width="1" stroke-dasharray="2.4 2.4"/>
<line x1="782.5" y1="175.3" x2="782.5" y2="485.5" stroke="#828282" stroke-width="1" stroke-dasharray="2.4 2.4"/>
<rect x="341" y="175.3" width="2" height="307.2" fill="#000"/>
<rect x="341" y="480.5" width="447.5" height="2" fill="#000"/>
<line x1="341.5" y1="482" x2="341.5" y2="486" stroke="#777" stroke-width="1"/>
<rect x="342.5" y="253.10000000000002" width="446.0" height="11.6" fill="#ffff00" stroke="#3a3a00" stroke-width="1"/>
<rect x="537" y="254.90000000000003" width="65" height="10" fill="#ffff00"/>
<text x="569.5" y="263.1" font-size="9.3" font-weight="bold" fill="#1b1b00" text-anchor="middle" font-family="Liberation Sans">All'occorrenza</text>
<rect x="342.5" y="336.5" width="446.0" height="11.6" fill="#ff0000" stroke="#6a0000" stroke-width="1"/>
<text x="568" y="346.5" font-size="9.3" font-weight="bold" fill="#ffffff" text-anchor="middle" font-family="Liberation Sans">indefinito</text>
<g clip-path="url(#cp)">
<rect x="355.2" y="282.5" width="8.4" height="8.4" fill="#ffff00" stroke="#2a2a00" stroke-width="1"/>
<rect x="372.3" y="282.5" width="8.4" height="8.4" fill="#ffff00" stroke="#2a2a00" stroke-width="1"/>
<rect x="389.5" y="282.5" width="8.4" height="8.4" fill="#ffff00" stroke="#2a2a00" stroke-width="1"/>
<rect x="406.6" y="282.5" width="8.4" height="8.4" fill="#ffff00" stroke="#2a2a00" stroke-width="1"/>
<rect x="423.7" y="282.5" width="8.4" height="8.4" fill="#ffff00" stroke="#2a2a00" stroke-width="1"/>
<rect x="440.8" y="282.5" width="8.4" height="8.4" fill="#ffff00" stroke="#2a2a00" stroke-width="1"/>
<rect x="457.9" y="282.5" width="8.4" height="8.4" fill="#ffff00" stroke="#2a2a00" stroke-width="1"/>
<rect x="475.1" y="282.5" width="8.4" height="8.4" fill="#ffff00" stroke="#2a2a00" stroke-width="1"/>
<rect x="492.2" y="282.5" width="8.4" height="8.4" fill="#ffff00" stroke="#2a2a00" stroke-width="1"/>
<rect x="509.3" y="282.5" width="8.4" height="8.4" fill="#ffff00" stroke="#2a2a00" stroke-width="1"/>
<rect x="526.4" y="282.5" width="8.4" height="8.4" fill="#ffff00" stroke="#2a2a00" stroke-width="1"/>
<rect x="543.5" y="282.5" width="8.4" height="8.4" fill="#ffff00" stroke="#2a2a00" stroke-width="1"/>
<rect x="560.7" y="282.5" width="8.4" height="8.4" fill="#ffff00" stroke="#2a2a00" stroke-width="1"/>
<rect x="577.8" y="282.5" width="8.4" height="8.4" fill="#ffff00" stroke="#2a2a00" stroke-width="1"/>
<rect x="594.9" y="282.5" width="8.4" height="8.4" fill="#ffff00" stroke="#2a2a00" stroke-width="1"/>
<rect x="612.0" y="282.5" width="8.4" height="8.4" fill="#ffff00" stroke="#2a2a00" stroke-width="1"/>
<rect x="629.1" y="282.5" width="8.4" height="8.4" fill="#ffff00" stroke="#2a2a00" stroke-width="1"/>
<rect x="646.3" y="282.5" width="8.4" height="8.4" fill="#ffff00" stroke="#2a2a00" stroke-width="1"/>
<rect x="663.4" y="282.5" width="8.4" height="8.4" fill="#ffff00" stroke="#2a2a00" stroke-width="1"/>
<rect x="680.5" y="282.5" width="8.4" height="8.4" fill="#ffff00" stroke="#2a2a00" stroke-width="1"/>
<rect x="697.6" y="282.5" width="8.4" height="8.4" fill="#ffff00" stroke="#2a2a00" stroke-width="1"/>
<rect x="714.7" y="282.5" width="8.4" height="8.4" fill="#ffff00" stroke="#2a2a00" stroke-width="1"/>
<rect x="731.9" y="282.5" width="8.4" height="8.4" fill="#ffff00" stroke="#2a2a00" stroke-width="1"/>
<rect x="749.0" y="282.5" width="8.4" height="8.4" fill="#ffff00" stroke="#2a2a00" stroke-width="1"/>
<rect x="766.1" y="282.5" width="8.4" height="8.4" fill="#ffff00" stroke="#2a2a00" stroke-width="1"/>
<rect x="783.2" y="282.5" width="8.4" height="8.4" fill="#ffff00" stroke="#2a2a00" stroke-width="1"/>
<rect x="561.5" y="227.3" width="7.6" height="7.6" fill="#ff0000" stroke="#5a0000" stroke-width="1"/>
<rect x="561.5" y="421.9" width="7.6" height="7.6" fill="#ff0000" stroke="#5a0000" stroke-width="1"/>
<rect x="784.5" y="227.3" width="7.6" height="7.6" fill="#e00000" stroke="#5a0000" stroke-width="1"/>
<rect x="784.5" y="366.3" width="7.6" height="7.6" fill="#e00000" stroke="#5a0000" stroke-width="1"/>
<rect x="784.5" y="421.9" width="7.6" height="7.6" fill="#e00000" stroke="#5a0000" stroke-width="1"/>
<rect x="784.5" y="449.7" width="7.6" height="7.6" fill="#e00000" stroke="#5a0000" stroke-width="1"/>
</g></svg>
<div class="t" style="right:463.5px;top:196.3px;font-size:8.5px;color:#1b1b1b;">Strutturale generico</div>
<div class="a" style="left:337px;top:203px;width:4px;height:1px;background:#888;"></div>
<div class="t" style="right:463.5px;top:224.1px;font-size:8.5px;color:#1b1b1b;">Visivo generale sull'elemento...</div>
<div class="a" style="left:337px;top:231px;width:4px;height:1px;background:#888;"></div>
<div class="t" style="right:463.5px;top:251.9px;font-size:8.5px;color:#1b1b1b;">Ripristino generico</div>
<div class="a" style="left:337px;top:259px;width:4px;height:1px;background:#888;"></div>
<div class="t" style="right:463.5px;top:279.7px;font-size:8.5px;color:#1b1b1b;">Pulizia regolare</div>
<div class="a" style="left:337px;top:287px;width:4px;height:1px;background:#888;"></div>
<div class="t" style="right:463.5px;top:307.5px;font-size:8.5px;color:#1b1b1b;">Strutturale generico</div>
<div class="a" style="left:337px;top:314px;width:4px;height:1px;background:#888;"></div>
<div class="t" style="right:463.5px;top:335.3px;font-size:8.5px;color:#1b1b1b;">Visivo generale sull'elemento...</div>
<div class="a" style="left:337px;top:342px;width:4px;height:1px;background:#888;"></div>
<div class="t" style="right:463.5px;top:363.1px;font-size:8.5px;color:#1b1b1b;">Strumentale su piastrelle</div>
<div class="a" style="left:337px;top:370px;width:4px;height:1px;background:#888;"></div>
<div class="t" style="right:463.5px;top:390.9px;font-size:8.5px;color:#1b1b1b;">Strutturale</div>
<div class="a" style="left:337px;top:398px;width:4px;height:1px;background:#888;"></div>
<div class="t" style="right:463.5px;top:418.7px;font-size:8.5px;color:#1b1b1b;">Visiva sull'elemento tecnico</div>
<div class="a" style="left:337px;top:426px;width:4px;height:1px;background:#888;"></div>
<div class="t" style="right:463.5px;top:446.5px;font-size:8.5px;color:#1b1b1b;">Strumentale sul componente</div>
<div class="a" style="left:337px;top:454px;width:4px;height:1px;background:#888;"></div>
<div class="t" style="left:372.5px;top:486.5px;font-size:8.6px;color:#111;line-height:9px;writing-mode:vertical-rl;-webkit-text-stroke:0.3px #111;">1° mese</div>
<div class="t" style="left:409.5px;top:486.5px;font-size:8.6px;color:#111;line-height:9px;writing-mode:vertical-rl;-webkit-text-stroke:0.3px #111;">2° mese</div>
<div class="t" style="left:446.5px;top:486.5px;font-size:8.6px;color:#111;line-height:9px;writing-mode:vertical-rl;-webkit-text-stroke:0.3px #111;">3° mese</div>
<div class="t" style="left:483.5px;top:486.5px;font-size:8.6px;color:#111;line-height:9px;writing-mode:vertical-rl;-webkit-text-stroke:0.3px #111;">4° mese</div>
<div class="t" style="left:519.5px;top:486.5px;font-size:8.6px;color:#111;line-height:9px;writing-mode:vertical-rl;-webkit-text-stroke:0.3px #111;">5° mese</div>
<div class="t" style="left:556.5px;top:486.5px;font-size:8.6px;color:#111;line-height:9px;writing-mode:vertical-rl;-webkit-text-stroke:0.3px #111;">6° mese</div>
<div class="t" style="left:593.5px;top:486.5px;font-size:8.6px;color:#111;line-height:9px;writing-mode:vertical-rl;-webkit-text-stroke:0.3px #111;">7° mese</div>
<div class="t" style="left:629.5px;top:486.5px;font-size:8.6px;color:#111;line-height:9px;writing-mode:vertical-rl;-webkit-text-stroke:0.3px #111;">8° mese</div>
<div class="t" style="left:666.5px;top:486.5px;font-size:8.6px;color:#111;line-height:9px;writing-mode:vertical-rl;-webkit-text-stroke:0.3px #111;">9° mese</div>
<div class="t" style="left:703.5px;top:486.5px;font-size:8.6px;color:#111;line-height:9px;writing-mode:vertical-rl;-webkit-text-stroke:0.3px #111;">10° mese</div>
<div class="t" style="left:739.5px;top:486.5px;font-size:8.6px;color:#111;line-height:9px;writing-mode:vertical-rl;-webkit-text-stroke:0.3px #111;">11° mese</div>
<div class="t" style="left:776.5px;top:486.5px;font-size:8.6px;color:#111;line-height:9px;writing-mode:vertical-rl;-webkit-text-stroke:0.3px #111;">12° mese</div>
<div class="a" style="left:215px;top:530px;width:578px;height:15px;background:#efefef;"></div>
<svg style="left:217px;top:534px" width="8" height="8"><path d="M5.5 1.2 L2.2 4 L5.5 6.8 Z" fill="#2a2a2a"/></svg>
<div class="a" style="left:214px;top:530px;width:1px;height:15px;background:#9a9a9a;"></div>
<svg style="left:784px;top:534px" width="8" height="8"><path d="M2.2 1.2 L5.5 4 L2.2 6.8 Z" fill="#2a2a2a"/></svg>
<div class="a" style="left:229px;top:532px;width:36px;height:12px;background:linear-gradient(#f8f8f8,#e6e6e6 50%,#d2d2d2);border:1px solid #a0a0a0;border-radius:2px;box-sizing:border-box;"></div>
<div class="a" style="left:244px;top:535px;width:7px;height:6px;background:repeating-linear-gradient(90deg,#4a4a4a 0 1px,transparent 1px 2px);"></div>
<div class="a" style="left:0px;top:565px;width:797px;height:5px;background:#eef5fb;"></div>
<div class="a" style="left:3px;top:545px;width:791px;height:20px;background:linear-gradient(#f0f5fb 0,#e0e9f4 8%,#cddaea 50%,#b8c8da);border-top:1px solid #a2a8b8;border-bottom:1px solid #8c9cae;box-sizing:border-box;"></div>
<div class="a" style="left:524px;top:546px;width:1px;height:18px;background:#a8bad2;"></div>
<div class="a" style="left:525px;top:546px;width:1px;height:18px;background:#e2ebf6;"></div>
<div class="a" style="left:548px;top:546px;width:1px;height:18px;background:#a8bad2;"></div>
<div class="a" style="left:549px;top:546px;width:1px;height:18px;background:#e2ebf6;"></div>
<div class="a" style="left:654px;top:546px;width:1px;height:18px;background:#a8bad2;"></div>
<div class="a" style="left:655px;top:546px;width:1px;height:18px;background:#e2ebf6;"></div>
<svg style="left:530px;top:549px" width="14" height="14">
 <rect x="0.5" y="0.5" width="12" height="12" fill="#6c60a8"/>
 <rect x="3" y="1" width="7" height="3.5" fill="#d8d4ea"/>
 <rect x="3" y="7" width="7" height="5.5" fill="#eceaf6"/>
 <rect x="5" y="8.5" width="2" height="4" fill="#6c60a8"/>
</svg>
<div class="t" style="left:557.5px;top:548.0px;font-size:8.5px;color:#243a5a;font-weight:normal;">Codice cliente: 060025</div>
<div class="t" style="left:574px;width:300px;text-align:center;top:548.0px;font-size:8.75px;color:#243a5a;font-weight:normal;">martedì 6 settembre 2011</div>
<div class="a" style="left:785px;top:553px;width:8px;height:10px;background:radial-gradient(circle,#8a9ab0 0.8px,transparent 1px) 0 0/3px 3px;"></div>
</body></html>
